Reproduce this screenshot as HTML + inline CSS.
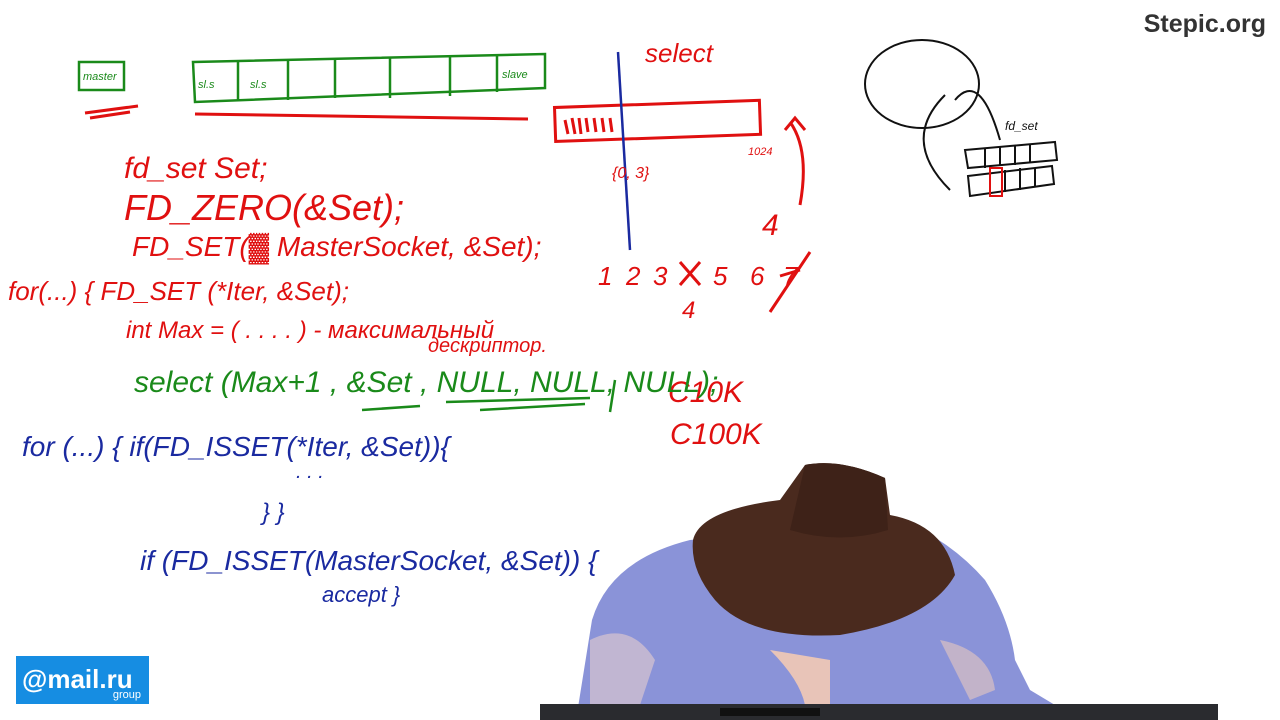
<!DOCTYPE html>
<html><head><meta charset="utf-8"><style>
html,body{margin:0;padding:0;background:#fff;}
svg{display:block}
text{font-family:"Liberation Sans",sans-serif;}
.h{font-family:"Liberation Sans","DejaVu Sans",sans-serif;font-style:italic;}
</style></head><body>
<svg width="1280" height="720" viewBox="0 0 1280 720" xmlns="http://www.w3.org/2000/svg">
<rect width="1280" height="720" fill="#fff"/>
<text x="1266" y="32" text-anchor="end" font-size="25" font-weight="bold" fill="#333">Stepic.org</text>
<g stroke="#1a8a1a" stroke-width="2.5" fill="none">
<rect x="79" y="62" width="45" height="28"/>
<path d="M193 62 L545 54 L545 88 L195 102 Z"/>
<path d="M238 62 V100 M288 60 V100 M335 58 V98 M390 58 V98 M450 56 V96 M497 56 V92"/>
</g>
<g fill="#1a8a1a" class="h" font-size="11"><text x="83" y="80">master</text><text x="198" y="88">sl.s</text><text x="250" y="88">sl.s</text><text x="502" y="78">slave</text></g>
<g stroke="#e01010" stroke-width="3" fill="none">
<path d="M85 113 L138 106 M90 118 L130 112"/>
<path d="M195 114 Q360 116 528 119"/>
<rect x="555" y="104" width="205" height="34" transform="rotate(-2 655 120)"/>
<path d="M565 120 L568 134 M572 118 L575 134 M579 118 L581 134 M586 118 L588 132 M594 118 L596 132 M602 118 L604 132 M610 118 L612 132"/>
<path d="M800 205 Q810 150 790 122 M785 130 L795 118 L805 130"/>
<path d="M770 312 L810 252"/>
<path d="M680 262 L700 285 M700 262 L680 285"/>
<path d="M780 276 L800 270"/>
</g>
<path d="M618 52 L630 250" stroke="#1a2aa0" stroke-width="2.5" fill="none"/>
<g fill="#e01010" class="h">
<text x="645" y="62" font-size="26">select</text>
<text x="748" y="155" font-size="11">1024</text>
<text x="612" y="178" font-size="16">{0, 3}</text>
<text x="762" y="235" font-size="30">4</text>
<text x="598" y="285" font-size="26">1</text><text x="626" y="285" font-size="26">2</text><text x="653" y="285" font-size="26">3</text>
<text x="713" y="285" font-size="26">5</text><text x="750" y="285" font-size="26">6</text><text x="783" y="285" font-size="26">7</text>
<text x="682" y="318" font-size="24">4</text>
<text x="668" y="402" font-size="30">C10K</text>
<text x="670" y="444" font-size="30">C100K</text>
<text x="124" y="178" font-size="30">fd_set  Set;</text>
<text x="124" y="220" font-size="36">FD_ZERO(&amp;Set);</text>
<text x="132" y="256" font-size="28">FD_SET(▓ MasterSocket, &amp;Set);</text>
<text x="8" y="300" font-size="26">for(...)  { FD_SET (*Iter, &amp;Set);</text>
<text x="126" y="338" font-size="24">int Max = (   . . . .  )  -  максимальный</text>
<text x="428" y="352" font-size="20">дескриптор.</text>
</g>
<g fill="#1a8a1a" class="h"><text x="134" y="392" font-size="30">select (Max+1 , &amp;Set  , NULL, NULL, NULL);</text></g>
<g stroke="#1a8a1a" stroke-width="2.5" fill="none"><path d="M362 410 L420 406 M446 402 L590 398 M480 410 L585 404 M615 380 L610 412"/></g>
<g fill="#1a2aa0" class="h">
<text x="22" y="456" font-size="28">for (...) {  if(FD_ISSET(*Iter, &amp;Set)){</text>
<text x="296" y="478" font-size="20">. . .</text>
<text x="262" y="520" font-size="24">} }</text>
<text x="140" y="570" font-size="28">if (FD_ISSET(MasterSocket, &amp;Set)) {</text>
<text x="322" y="602" font-size="22">accept }</text>
</g>
<g stroke="#111" stroke-width="2" fill="none">
<ellipse cx="922" cy="84" rx="57" ry="44"/>
<path d="M945 95 Q900 140 950 190 M955 100 Q980 70 1000 140"/>
<path d="M965 150 L1055 142 L1057 160 L968 168 Z M968 176 L1052 166 L1054 184 L970 196 Z"/>
<path d="M985 148 V168 M1000 146 V166 M1015 145 V165 M1030 144 V162 M990 172 V194 M1005 170 V192 M1020 168 V190 M1035 168 V186"/>
</g>
<text x="1005" y="130" font-size="12" class="h" fill="#111">fd_set</text>
<rect x="990" y="168" width="12" height="28" fill="none" stroke="#e01010" stroke-width="2"/>
<rect x="16" y="656" width="133" height="48" fill="#168de2"/>
<text x="22" y="688" font-size="26" font-weight="bold" fill="#fff">@mail.ru</text>
<text x="141" y="698" font-size="11" fill="#fff" text-anchor="end">group</text>
<path d="M576 720 L592 620 Q610 560 690 540 L900 520 Q950 540 985 580 Q1010 620 1015 660 L1030 690 L1055 705 L1060 720 Z" fill="#8a93d8"/>
<path d="M590 640 Q630 620 655 660 L640 705 L590 705 Z" fill="#d8c4d0" opacity="0.7"/>
<path d="M940 640 Q990 650 995 690 L970 700 Z" fill="#e8c8c0" opacity="0.6"/>
<path d="M770 650 Q800 680 805 705 L830 705 L830 660 Z" fill="#e8c4b8"/>
<path d="M693 540 Q700 510 780 500 L805 465 Q840 458 885 478 L890 515 Q945 525 955 575 Q930 620 840 635 Q750 640 715 600 Q690 570 693 540 Z" fill="#4a2a1e"/>
<path d="M805 465 Q840 458 885 478 L888 530 Q840 545 790 530 Z" fill="#3e2218"/>
<rect x="540" y="704" width="678" height="16" fill="#2a2b2f"/>
<rect x="720" y="708" width="100" height="8" fill="#111"/>
</svg>
</body></html>
